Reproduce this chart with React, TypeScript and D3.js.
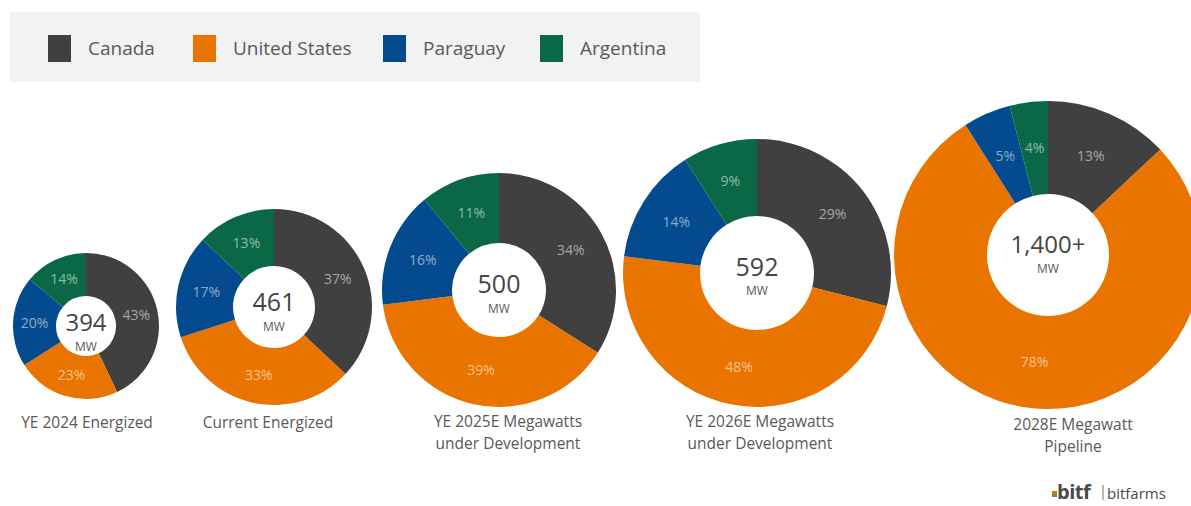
import React from "react";
import * as d3 from "d3";

const countries = ["Canada", "United States", "Paraguay", "Argentina"];
const colors = ["#404040", "#e97500", "#034b8e", "#0a6846"];

const chartTitles = [
  ["YE 2024 Energized"],
  ["Current Energized"],
  ["YE 2025E Megawatts", "under Development"],
  ["YE 2026E Megawatts", "under Development"],
  ["2028E Megawatt", "Pipeline"],
];
const totals = ["394", "461", "500", "592", "1,400+"];
const canadaShare = [43, 37, 34, 29, 13];
const usShare = [23, 33, 39, 48, 78];
const paraguayShare = [20, 17, 16, 14, 5];
const argentinaShare = [14, 13, 11, 9, 4];

// layout (positions only)
const layout = [
  { cx: 86, cy: 326, r: 73, ri: 30, lx: 87, ly: 428, nDy: 5, mDy: 25, nFs: 24 },
  { cx: 274, cy: 307, r: 98, ri: 41, lx: 268, ly: 428, nDy: 4, mDy: 24, nFs: 25 },
  { cx: 499, cy: 290, r: 117, ri: 47, lx: 508, ly: 427, nDy: 3, mDy: 23, nFs: 25 },
  { cx: 757, cy: 273, r: 134, ri: 57, lx: 760, ly: 427, nDy: 3, mDy: 22, nFs: 25 },
  { cx: 1048, cy: 255, r: 154, ri: 61, lx: 1073, ly: 430, nDy: -2, mDy: 18, nFs: 24 },
];

const FONT = "'Open Sans', 'Noto Sans', sans-serif";
const TEXT = "#595959";

export default function App() {
  const pie = d3
    .pie<number>()
    .sort(null)
    .value((d) => d)
    .startAngle(0)
    .endAngle(2 * Math.PI);

  const legendX = [48, 193, 383, 540];

  return (
    <svg
      width={1191}
      height={506}
      style={{ position: "absolute", left: 0, top: 0, background: "#fff" }}
      fontFamily={FONT}
    >
      <rect x={10} y={12} width={690} height={70} fill="#f2f2f2" />
      {countries.map((c, i) => (
        <g key={c}>
          <rect x={legendX[i]} y={35} width={23} height={27} fill={colors[i]} />
          <text x={legendX[i] + 40} y={55} fontSize={19} fill={TEXT}>
            {c}
          </text>
        </g>
      ))}
      {layout.map((L, k) => {
        const vals = [canadaShare[k], usShare[k], paraguayShare[k], argentinaShare[k]];
        const arcs = pie(vals);
        const arc = d3.arc<d3.PieArcDatum<number>>().innerRadius(L.ri).outerRadius(L.r);
        return (
          <g key={k}>
            <g transform={`translate(${L.cx},${L.cy})`}>
              {arcs.map((a, i) => (
                <path key={i} d={arc(a) || ""} fill={colors[i]} />
              ))}
              {arcs.map((a, i) => {
                const [x, y] = arc.centroid(a);
                return (
                  <text
                    key={"t" + i}
                    x={x}
                    y={y}
                    dy="0.35em"
                    textAnchor="middle"
                    fontSize={14}
                    fill="#ffffff"
                    fillOpacity={0.55}
                  >
                    {vals[i]}%
                  </text>
                );
              })}
              <text y={L.nDy} textAnchor="middle" fontSize={L.nFs} fill="#454545">
                {totals[k]}
              </text>
              <text y={L.mDy} textAnchor="middle" fontSize={12} fill="#595959">
                MW
              </text>
            </g>
            {chartTitles[k].map((t, j) => (
              <text
                key={j}
                x={L.lx}
                y={L.ly + j * 21.5}
                textAnchor="middle"
                fontSize={15.5}
                fill={TEXT}
              >
                {t}
              </text>
            ))}
          </g>
        );
      })}
      <g>
        <rect x={1052} y={491} width={5} height={3} fill="#e97500" />
        <rect x={1052} y={494} width={5} height={3} fill="#3aa655" />
        <text x={1057} y={499} fontSize={20} fontWeight={700} fill="#4a4a4a" letterSpacing={-0.5}>
          bitf
        </text>
        <line x1={1103} y1={485} x2={1103} y2={500} stroke="#777" strokeWidth={1} />
        <text x={1107} y={499} fontSize={15} fill="#4a4a4a">
          bitfarms
        </text>
      </g>
    </svg>
  );
}
